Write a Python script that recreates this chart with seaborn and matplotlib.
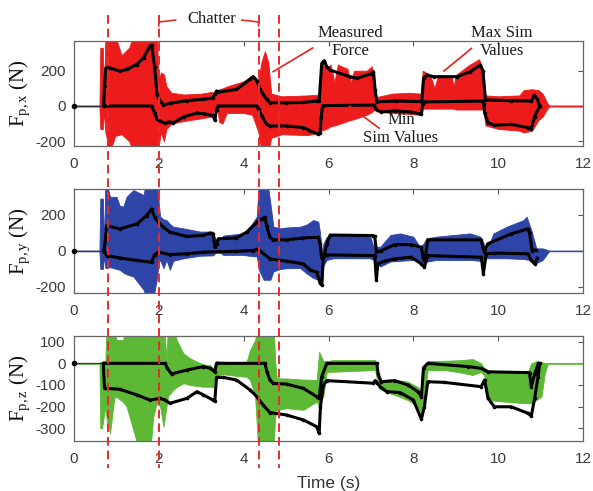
import matplotlib.pyplot as plt
import seaborn as sns

# ---------------- data ----------------
time_ticks = [0, 2, 4, 6, 8, 10, 12]
chatter_lines = [0.79, 2.0, 4.35, 4.84]
t_idle = [0, 0.70]
v_idle = [0, 0]

# F_p,x : measured force envelope
tx_env = [0.00, 0.60, 0.62, 0.68, 0.71, 0.74, 0.85, 0.97, 1.12, 1.30, 1.40, 1.95, 2.00, 2.05, 2.12, 2.18,
          2.30, 2.60, 3.00, 3.25, 3.32, 3.38, 3.42, 3.50, 3.60, 4.00, 4.20, 4.35, 4.42, 4.50, 4.58, 4.65,
          4.90, 5.50, 5.80, 5.83, 5.95, 6.05, 6.14, 6.22, 6.45, 6.52, 6.60, 6.90, 7.02, 7.08, 7.12, 7.50,
          7.90, 8.18, 8.22, 8.40, 8.50, 8.58, 8.90, 8.95, 9.00, 9.30, 9.55, 9.65, 9.70, 10.00, 10.50, 10.60,
          10.80, 10.95, 11.05, 11.15, 11.20, 12.00]
fx_hi = [3, 3, 330, 330, 30, 400, 400, 400, 288, 330, 400, 400, 150, 190, 180, 110,
         75, 65, 70, 80, 50, 80, 95, 100, 110, 140, 175, 150, 250, 310, 250, 70,
         55, 60, 65, 255, 210, 235, 135, 235, 210, 130, 200, 200, 225, 160, 50, 70,
         75, 70, 200, 175, 100, 175, 170, 110, 175, 230, 265, 200, 60, 55, 60, 90,
         95, 90, 70, 20, 3, 3]
fx_lo = [-3, -3, -130, -130, -30, -150, -260, -170, -160, -200, -260, -260, -220, -150, -200, -130,
         -100, -85, -70, -60, -10, -10, -90, -100, -40, -40, -50, -150, -260, -260, -260, -180,
         -160, -165, -150, -140, -130, -115, -110, -105, -85, -80, -75, -50, -35, -20, -30, -40,
         -45, -50, -15, -15, -15, -15, -15, -15, -20, -20, -20, -20, -110, -130, -140, -150,
         -140, -80, -60, -20, -3, -3]
# F_p,x : max / min simulated values
tx_max = [0.70, 0.72, 0.75, 0.85, 1.08, 1.24, 1.48, 1.64, 1.79, 1.83, 1.90, 1.96, 2.03, 2.11, 2.26,
          2.66, 3.05, 3.28, 3.32, 3.36, 3.40, 3.83, 4.15, 4.23, 4.31, 4.39, 4.46, 4.54, 4.62, 5.00, 5.40,
          5.72, 5.78, 5.84, 5.90, 5.96, 6.04, 6.51, 6.67, 7.02, 7.06, 7.10, 7.14, 7.60, 8.20, 8.24, 8.32,
          8.48, 9.03, 9.34, 9.58, 9.64, 9.70, 10.30, 10.78, 10.85, 10.92, 10.98]
fx_max = [0, 113, 216, 215, 198, 207, 235, 273, 339, 345, 220, 60, 30, 5, 15,
          30, 38, 45, 70, 85, 78, 94, 151, 166, 141, 94, 66, 38, 19, 18, 20,
          28, 30, 241, 257, 222, 203, 166, 157, 184, 195, 90, 24, 28, 25, 157, 176,
          166, 166, 194, 232, 200, 34, 30, 28, 60, 40, 0]
tx_min = [0.70, 1.83, 1.90, 1.96, 2.03, 2.15, 2.24, 2.34, 2.60, 2.90, 3.10, 3.28, 3.32, 3.36, 3.40,
          4.31, 4.35, 4.43, 4.54, 4.62, 5.01, 5.41, 5.57, 5.76, 5.80, 5.83, 5.86, 7.08, 7.12, 7.24, 7.56,
          7.95, 8.19, 8.22, 8.26, 9.62, 9.66, 9.68, 9.76, 9.91, 10.31, 10.70, 10.78, 10.86, 10.98]
fx_min = [0, 0, -38, -75, -85, -98, -90, -95, -60, -40, -45, -55, -80, -20, 0,
          0, -19, -57, -104, -113, -113, -122, -141, -160, -151, -60, 2, 5, -19, -34, -28,
          -34, -47, 10, 23, 28, 10, -38, -94, -109, -104, -122, -128, -60, 0]

# F_p,y
ty_env = [0.00, 0.60, 0.62, 0.68, 0.71, 0.74, 0.85, 1.00, 1.08, 1.16, 1.24, 1.40, 1.64, 1.71, 1.87, 1.95,
          2.00, 2.03, 2.11, 2.18, 2.26, 2.34, 2.58, 2.97, 3.28, 3.34, 3.44, 3.52, 3.99, 4.15, 4.31, 4.36,
          4.47, 4.55, 4.63, 4.70, 4.86, 5.02, 5.33, 5.48, 5.64, 5.76, 5.80, 5.85, 5.88, 5.96, 6.12, 6.98,
          7.06, 7.22, 7.46, 7.69, 8.00, 8.15, 8.24, 8.31, 8.55, 9.34, 9.58, 9.73, 9.89, 10.20, 10.60, 10.67,
          10.78, 10.90, 11.05, 11.20, 12.00]
fy_hi = [2, 2, 290, 290, 30, 400, 300, 300, 250, 245, 300, 337, 310, 400, 400, 400,
         260, 190, 175, 171, 150, 134, 125, 107, 107, 60, 60, 85, 97, 134, 190, 400,
         400, 400, 263, 134, 125, 130, 134, 145, 171, 162, 100, -10, 40, 79, 88, 85,
         23, 23, 88, 97, 79, 23, 40, 70, 79, 97, 79, 5, 97, 134, 171, 190,
         116, 14, 14, 2, 2]
fy_lo = [-2, -2, -100, -100, -30, -95, -90, -100, -105, -120, -130, -142, -215, -260, -260, -160,
         -60, -50, -96, -50, -105, -55, -41, -27, -25, -10, -10, -22, -22, -28, -31, -105,
         -160, -160, -160, -114, -100, -96, -95, -124, -150, -160, -188, -190, -80, -50, -41, -41,
         -50, -87, -59, -55, -50, -60, -87, -60, -50, -50, -55, -41, -41, -41, -45, -48,
         -50, -68, -50, -2, -2]
ty_max = [0.70, 0.74, 0.77, 1.08, 1.48, 1.71, 1.83, 1.90, 1.99, 2.11, 2.26, 2.66, 3.05, 3.21, 3.28,
          3.32, 3.36, 3.40, 3.83, 4.07, 4.31, 4.43, 4.50, 4.54, 4.62, 4.70, 5.01, 5.41, 5.76, 5.80, 5.84,
          5.90, 5.96, 6.04, 7.05, 7.09, 7.13, 7.24, 7.56, 7.95, 8.19, 8.24, 8.28, 8.34, 9.60, 9.64, 9.68,
          9.75, 10.30, 10.70, 10.74, 10.80, 10.90]
fy_max = [0, 60, 140, 122, 149, 195, 232, 186, 158, 131, 104, 80, 86, 99, 94,
          20, 40, 67, 72, 104, 158, 177, 186, 140, 76, 61, 61, 72, 76, 40, -41,
          -30, 40, 88, 85, 80, -7, 0, 35, 35, 20, -50, -40, 61, 61, 20, -10,
          39, 94, 122, 100, 2, 5]
ty_min = [0.70, 0.77, 1.08, 1.48, 1.83, 1.90, 1.99, 2.26, 2.66, 3.05, 3.83, 4.23, 4.31, 4.39, 4.62,
          5.01, 5.41, 5.56, 5.72, 5.80, 5.84, 5.88, 5.96, 7.09, 7.11, 7.13, 7.16, 7.32, 7.56, 7.95, 8.19,
          8.26, 8.34, 9.60, 9.63, 9.65, 9.72, 9.91, 10.70, 10.78, 10.86, 10.92]
fy_min = [0, -26, -39, -53, -63, -20, -7, -20, -16, -7, -2, 2, 9, 0, -44,
          -57, -72, -105, -118, -178, -188, -31, -22, -26, -100, -164, -72, -57, -44, -35, -72,
          -90, -26, -35, -80, -127, -16, -12, -16, -53, -72, -40]

# F_p,z
tz_env = [0.00, 0.60, 0.62, 0.66, 0.70, 0.74, 0.77, 0.85, 0.95, 1.00, 1.16, 1.24, 1.40, 1.56, 1.79, 1.87,
          1.95, 2.03, 2.11, 2.18, 2.22, 2.34, 2.42, 2.58, 2.74, 2.90, 3.05, 3.21, 3.28, 3.34, 3.50, 3.83,
          4.07, 4.15, 4.27, 4.35, 4.70, 4.74, 4.78, 5.01, 5.41, 5.72, 5.78, 5.88, 5.96, 6.10, 7.10, 7.16,
          7.24, 7.56, 7.87, 8.11, 8.19, 8.26, 8.34, 8.74, 9.13, 9.40, 9.60, 9.68, 9.76, 10.31, 10.70, 10.78,
          10.90, 11.02, 11.10, 11.17, 12.00]
fz_hi = [2, 2, 5, 5, 10, 10, 200, 200, 200, 108, 108, 200, 200, 200, 200, 200,
         200, 200, 200, 20, 200, 200, 108, 46, 23, 8, -5, -8, -25, 10, 8, 5,
         8, 61, 108, 200, 200, 20, -69, -70, -75, -77, 54, 10, 10, 15, 15, -60,
         -77, -75, -85, -110, -130, -20, 10, 12, 15, 20, 0, -25, -39, -39, -39, 0,
         10, 5, 2, 2, 2]
fz_lo = [-2, -2, -300, -300, -250, -200, -260, -324, -160, -154, -180, -200, -309, -420, -420, -247,
         -185, -200, -294, -200, -150, -123, -110, -92, -100, -105, -108, -108, -110, -60, -50, -58,
         -62, -77, -154, -420, -420, -250, -216, -208, -215, -177, -200, -150, -40, -39, -31, -100,
         -123, -146, -170, -201, -231, -150, -31, -31, -43, -54, -39, -60, -170, -180, -185, -185,
         -170, -154, -46, -2, -2]
tz_max = [0.70, 2.15, 2.20, 2.30, 2.66, 3.05, 3.21, 3.32, 3.36, 4.50, 4.55, 4.62, 4.70, 5.01, 5.41, 5.72,
          5.78, 5.84, 5.96, 7.14, 7.17, 7.24, 7.56, 7.87, 8.11, 8.19, 8.24, 8.34, 9.29, 9.60, 9.68, 9.76,
          10.74, 10.78, 10.86, 10.95]
fz_max = [0, 0, -23, -49, -31, -15, -23, -39, 0, 0, -40, -77, -93, -96, -116, -154,
          -162, -62, 0, 0, -49, -85, -80, -100, -131, -154, -20, 0, -15, -23, -31, -39,
          -43, -108, -50, 0]
tz_min = [0.69, 0.72, 0.77, 1.08, 1.48, 1.79, 2.03, 2.15, 2.26, 2.66, 2.90, 3.05, 3.28, 3.32, 3.36,
          3.52, 3.83, 4.15, 4.31, 4.46, 4.62, 5.01, 5.41, 5.72, 5.78, 5.81, 5.88, 5.96, 7.06, 7.10, 7.14,
          7.22, 7.37, 7.69, 8.00, 8.19, 8.26, 8.34, 8.73, 9.60, 9.68, 9.76, 9.91, 10.31, 10.70, 10.78, 10.86,
          10.94, 10.98]
fz_min = [0, -116, -116, -120, -146, -170, -162, -170, -185, -162, -131, -146, -170, -175, -65,
          -65, -77, -123, -154, -193, -228, -239, -262, -293, -324, -200, -100, -80, -92, -80, -90,
          -108, -131, -135, -170, -258, -201, -85, -88, -108, -77, -162, -201, -201, -231, -244, -162,
          -62, 0]

# ---------------- style ----------------
sns.set_theme(style="white")
plt.rcParams["font.family"] = ["Liberation Sans", "DejaVu Sans"]
plt.rcParams["axes.unicode_minus"] = False
plt.rcParams["mathtext.fontset"] = "custom"
plt.rcParams["mathtext.rm"] = "Liberation Serif"
plt.rcParams["mathtext.it"] = "Liberation Serif:italic"

RED = "#e8201c"
DASH_RED = "#e82b2b"
serif = ["Liberation Serif", "DejaVu Serif"]

panels = [
    dict(t=tx_env, hi=fx_hi, lo=fx_lo, tmax=tx_max, vmax=fx_max, tmin=tx_min, vmin=fx_min,
         color="#ec1c1c", ylim=(-225, 370), yticks=[-200, 0, 200], sub="p,x", box=[74, 40.7, 509, 105]),
    dict(t=ty_env, hi=fy_hi, lo=fy_lo, tmax=ty_max, vmax=fy_max, tmin=ty_min, vmin=fy_min,
         color="#2e44a6", ylim=(-235, 343), yticks=[-200, 0, 200], sub="p,y", box=[74, 189, 509, 104.3]),
    dict(t=tz_env, hi=fz_hi, lo=fz_lo, tmax=tz_max, vmax=fz_max, tmin=tz_min, vmin=fz_min,
         color="#5cb835", ylim=(-358, 128), yticks=[-300, -200, -100, 0, 100], sub="p,z", box=[74, 335.7, 509, 105]),
]

W, H = 593, 491
fig = plt.figure(figsize=(W / 100, H / 100), dpi=100)

axes = []
for p in panels:
    x0, y0, w, h = p["box"]
    ax = fig.add_axes([x0 / W, 1 - (y0 + h) / H, w / W, h / H])
    ax.fill_between(p["t"], p["lo"], p["hi"], color=p["color"], lw=0.6, edgecolor=p["color"])
    # idle part before the cut: thin trace with a start dot
    sns.lineplot(x=t_idle, y=v_idle, ax=ax, color="#333333", lw=0.9, sort=False, estimator=None)
    ax.plot(t_idle[:1], v_idle[:1], "o", color="black", ms=3, clip_on=False, zorder=5)
    sns.lineplot(x=p["tmax"], y=p["vmax"], ax=ax, color="black", lw=2.2, marker="o", markersize=2.6,
                 markeredgewidth=0, sort=False, estimator=None)
    sns.lineplot(x=p["tmin"], y=p["vmin"], ax=ax, color="black", lw=2.2, marker="o", markersize=2.6,
                 markeredgewidth=0, sort=False, estimator=None)
    ax.set_xlim(0, 12)
    ax.set_ylim(*p["ylim"])
    ax.set_xticks(time_ticks)
    ax.set_yticks(p["yticks"])
    ax.set_yticklabels([str(v) for v in p["yticks"]])
    ax.tick_params(direction="in", length=3.5, width=0.8, color="#555555", labelcolor="#3a3a3a",
                   labelsize=11, top=True, right=True)
    ax.tick_params(axis="x", pad=8)
    ax.tick_params(axis="y", pad=6)
    for s in ax.spines.values():
        s.set_color("#666666")
        s.set_linewidth(0.9)
    ax.set_ylabel(r"F$_{\mathrm{" + p["sub"] + r"}}$ (N)", fontsize=15, family=serif, color="#111111")
    ax.yaxis.set_label_coords(-0.082, 0.5)
    axes.append(ax)

axes[2].set_xlabel("Time (s)", fontsize=12.5, color="#333333", labelpad=7)

# annotations in the top panel
ax = axes[0]
txt = dict(fontsize=12, family=serif, color="#1a1a1a", ha="center", va="center", linespacing=1.15)
ax.text(6.51, 362, "Measured\nForce", **txt)
ax.text(10.08, 362, "Max Sim\nValues", **txt)
ax.text(7.71, -130, "Min\nSim Values", **txt)
ax.plot([4.69, 5.63], [194, 329], color=RED, lw=1.2, clip_on=False)
ax.plot([8.72, 9.375], [198, 327], color=RED, lw=1.2, clip_on=False)
ax.plot([6.49, 7.197], [0, -126], color=RED, lw=1.2, clip_on=False)

# overlay for chatter boundaries spanning all panels (y in pixels from top)
ov = fig.add_axes([74 / W, 0, 509 / W, 1], zorder=10)
ov.set_xlim(0, 12)
ov.set_ylim(H, 0)
ov.axis("off")
ov.patch.set_alpha(0)
ov.vlines(chatter_lines, 15, 468, colors=DASH_RED, linestyles=(0, (4.5, 2.5)), lw=1.4)
ov.text(3.25, 19, "Chatter", fontsize=12, family=serif, color="#1a1a1a", ha="center", va="center")
ov.plot([2.0, 2.0, 2.4], [26, 22, 20], color=DASH_RED, lw=1.2)
ov.plot([3.95, 4.35, 4.35], [20, 22, 26], color=DASH_RED, lw=1.2)

fig.savefig("out.png", dpi=100)
